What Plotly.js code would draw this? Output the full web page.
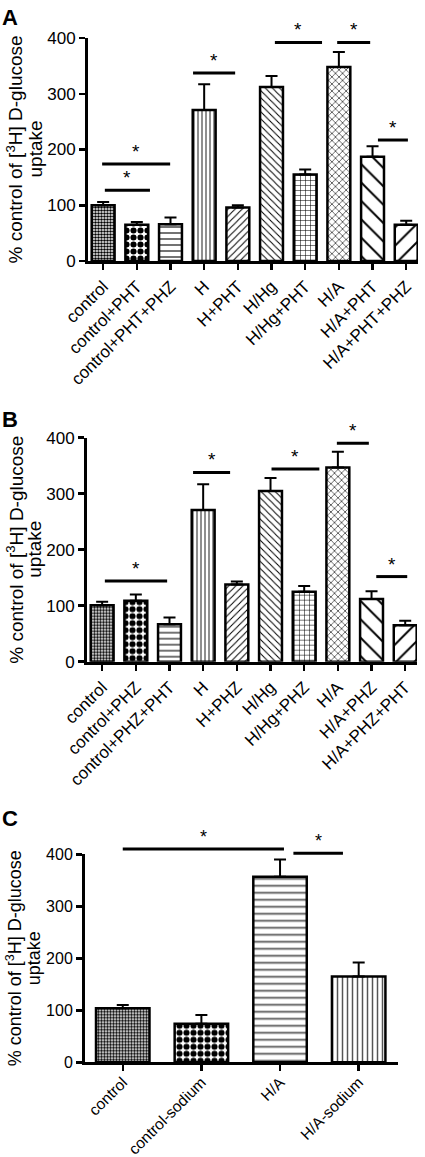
<!DOCTYPE html>
<html>
<head>
<meta charset="utf-8">
<script src="https://cdn.plot.ly/plotly-3.0.1.min.js"></script>
<style>
  html, body { margin: 0; padding: 0; background: #fff; }
  #chart { width: 425px; height: 1157px; }
</style>
</head>
<body>
<div id="chart"></div>
<script>
// ---------- data ----------
const catsA = ["control", "control+PHT", "control+PHT+PHZ", "H", "H+PHT", "H/Hg", "H/Hg+PHT", "H/A", "H/A+PHT", "H/A+PHT+PHZ"];
const valsA = [100, 65, 66, 271, 96, 312, 155, 348, 187, 65];
const errA  = [6, 5, 12, 46, 4, 20, 9, 27, 19, 7];

const catsB = ["control", "control+PHZ", "control+PHZ+PHT", "H", "H+PHZ", "H/Hg", "H/Hg+PHZ", "H/A", "H/A+PHZ", "H/A+PHZ+PHT"];
const valsB = [101, 109, 67, 271, 138, 305, 125, 347, 112, 65];
const errB  = [6, 11, 12, 46, 5, 23, 10, 28, 14, 8];

const catsC = ["control", "control-sodium", "H/A", "H/A-sodium"];
const valsC = [104, 74, 357, 165];
const errC  = [6, 17, 33, 27];

// significance brackets (category-axis units, value units)
const sigA_x0 = [0.05, -0.03, 2.67, 5.10, 6.95, 8.16];
const sigA_x1 = [1.39, 1.99, 3.92, 6.50, 7.93, 9.05];
const sigA_y  = [127, 174, 337, 392, 392, 217];

const sigB_x0 = [0.08, 2.70, 5.03, 6.97, 8.14];
const sigB_x1 = [1.93, 3.80, 6.45, 7.92, 9.06];
const sigB_y  = [144, 338, 344, 390, 152];

const sigC_x0 = [0.00, 2.17];
const sigC_x1 = [2.05, 2.80];
const sigC_y  = [410, 402];

const yTicks = [0, 100, 200, 300, 400];
const yMax = 400;
const yTitle1 = "% control of [<sup>3</sup>H] D-glucose";
const yTitle2 = "uptake";

// ---------- styles ----------
const FONT = "Liberation Sans, Arial, Helvetica, sans-serif";
const patShape10 = [".", ".", "-", "|", "/", "\\", "+", "x", "\\", "/"];
const patSize10  = [3, 7, 6, 4, 5, 5, 5, 5, 13, 13];
const patSol10   = [0.55, 0.6, 0.25, 0.3, 0.2, 0.2, 0.2, 0.22, 0.15, 0.15];
const patFg10    = ["#000", "#000", "#444", "#444", "#000", "#000", "#000", "#000", "#000", "#000"];

const patShape4 = [".", ".", "-", "|"];
const patSize4  = [3, 7, 7, 5];
const patSol4   = [0.55, 0.6, 0.25, 0.3];
const patFg4    = ["#000", "#000", "#555", "#555"];

function barTrace(cats, vals, errs, xa, ya, shp, sz, sol, fg) {
  return {
    type: "bar", x: cats, y: vals, xaxis: xa, yaxis: ya,
    width: 0.68,
    marker: {
      color: "#fff",
      line: { color: "#000", width: 2.5 },
      pattern: { shape: shp, size: sz, solidity: sol, fgcolor: fg, bgcolor: "#fff", fillmode: "replace" }
    },
    error_y: {
      type: "data", symmetric: false, array: errs,
      arrayminus: errs.map(() => 0),
      color: "#000", thickness: 2, width: 6
    },
    showlegend: false, hoverinfo: "skip"
  };
}

const data = [
  barTrace(catsA, valsA, errA, "x", "y", patShape10, patSize10, patSol10, patFg10),
  barTrace(catsB, valsB, errB, "x2", "y2", patShape10, patSize10, patSol10, patFg10),
  barTrace(catsC, valsC, errC, "x3", "y3", patShape4, patSize4, patSol4, patFg4)
];

function xAxis(domain, range, anchor, fs, standoff) {
  return {
    domain: domain, range: range, anchor: anchor, type: "category",
    showline: true, linecolor: "#000", linewidth: 3, mirror: false,
    ticks: "outside", ticklen: 6, tickwidth: 2.5, tickcolor: "#000",
    tickangle: -45, tickfont: { family: FONT, size: fs, color: "#000" },
    ticklabelstandoff: standoff,
    showgrid: false, zeroline: false, automargin: false, fixedrange: true
  };
}
function yAxis(domain, anchor, fs) {
  return {
    domain: domain, range: [0, yMax], anchor: anchor,
    tickvals: yTicks, ticktext: yTicks.map(String),
    showline: true, linecolor: "#000", linewidth: 3,
    ticks: "outside", ticklen: 6, tickwidth: 2.5, tickcolor: "#000",
    tickfont: { family: FONT, size: fs, color: "#000" },
    showgrid: false, zeroline: false, automargin: false, fixedrange: true
  };
}

const shapes = [];
const annotations = [];
function addSig(x0s, x1s, ys, xa, ya, fs) {
  for (let i = 0; i < ys.length; i++) {
    shapes.push({
      type: "line", xref: xa, yref: ya + " domain",
      x0: x0s[i], x1: x1s[i], y0: ys[i] / yMax, y1: ys[i] / yMax,
      line: { color: "#000", width: 3 }
    });
    annotations.push({
      xref: xa, yref: ya + " domain", x: (x0s[i] + x1s[i]) / 2, y: ys[i] / yMax,
      text: "*", showarrow: false, yanchor: "bottom", yshift: 0,
      font: { family: FONT, size: fs, color: "#000" }
    });
  }
}
addSig(sigA_x0, sigA_x1, sigA_y, "x", "y", 19);
addSig(sigB_x0, sigB_x1, sigB_y, "x2", "y2", 19);
addSig(sigC_x0, sigC_x1, sigC_y, "x3", "y3", 18);

const panelLetters = ["A", "B", "C"];
const letterY = [1 - 3 / 1157, 1 - 405 / 1157, 1 - 804 / 1157];
panelLetters.forEach((t, i) => annotations.push({
  xref: "paper", yref: "paper", x: 0.0, y: letterY[i], xanchor: "left", yanchor: "top",
  text: "<b>" + t + "</b>", showarrow: false,
  font: { family: FONT, size: 22, color: "#000" }
}));

// y-axis titles (two lines, rotated)
const domA = [1 - 261 / 1157, 1 - 38 / 1157];
const domB = [1 - 661.7 / 1157, 1 - 437.7 / 1157];
const domC = [1 - 1062.3 / 1157, 1 - 854.3 / 1157];
function addYTitle(dom, x1, x2, fs) {
  const yc = (dom[0] + dom[1]) / 2;
  [[yTitle1, x1], [yTitle2, x2]].forEach(([t, x]) => annotations.push({
    xref: "paper", yref: "paper", x: x / 425, y: yc, xanchor: "center", yanchor: "middle",
    text: t, textangle: -90, showarrow: false,
    font: { family: FONT, size: fs, color: "#000" }
  }));
}
addYTitle(domA, 15, 35, 19);
addYTitle(domB, 15, 35, 19);
addYTitle(domC, 14, 34, 18);

const layout = {
  width: 425, height: 1157,
  margin: { l: 0, r: 0, t: 0, b: 0 },
  paper_bgcolor: "#fff", plot_bgcolor: "#fff",
  showlegend: false,
  xaxis:  xAxis([88 / 425, 418 / 425], [-0.45, 9.35], "y", 17, 0),
  yaxis:  yAxis(domA, "x", 17),
  xaxis2: xAxis([87 / 425, 417 / 425], [-0.45, 9.35], "y2", 17, 0),
  yaxis2: yAxis(domB, "x2", 17),
  xaxis3: xAxis([85 / 425, 398 / 425], [-0.48, 3.5], "y3", 15.5, -4),
  yaxis3: yAxis(domC, "x3", 16),
  shapes: shapes,
  annotations: annotations
};

Plotly.newPlot("chart", data, layout, { displayModeBar: false, staticPlot: true });
</script>
</body>
</html>
